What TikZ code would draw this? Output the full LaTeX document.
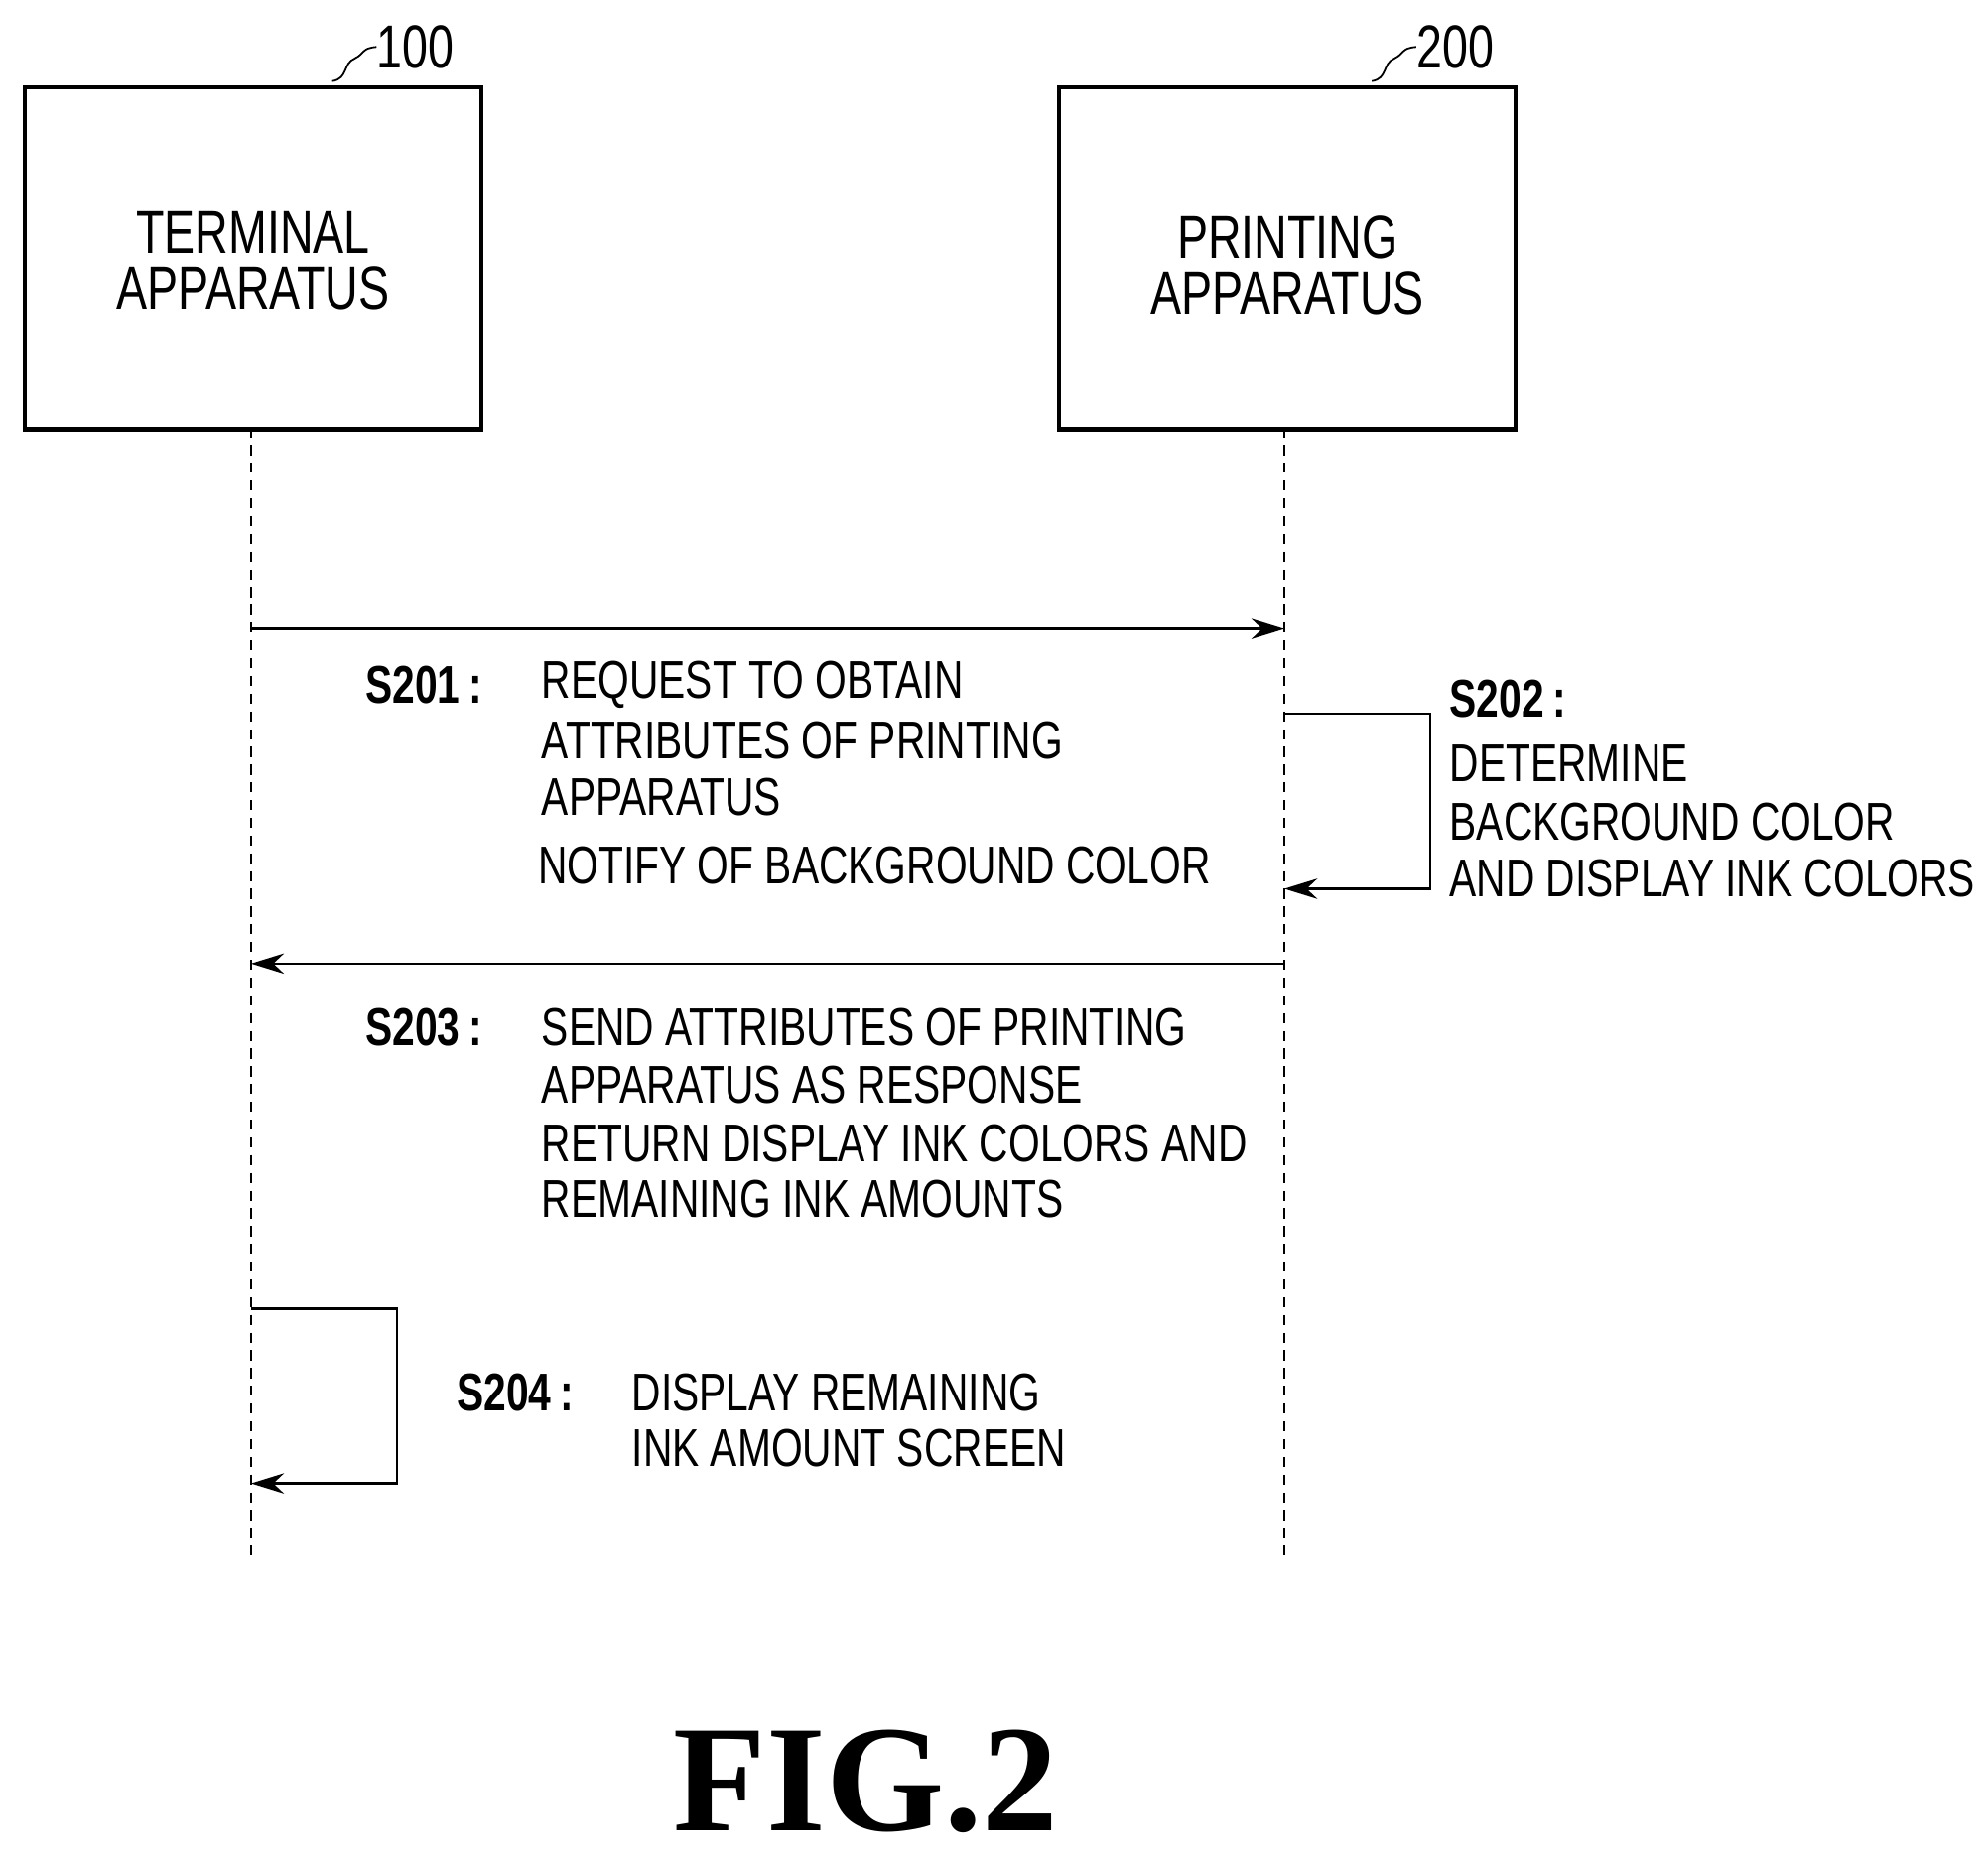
\documentclass[tikz,border=0pt]{standalone}
\usepackage{fontspec}
\setmainfont{Liberation Sans}[FakeStretch=0.76]
\newfontfamily\figfont{Liberation Serif}
\usetikzlibrary{arrows.meta}
\begin{document}
\begin{tikzpicture}[x=0.5pt,y=-0.5pt,
  box/.style={draw,line width=1.6pt},
  life/.style={dashed,line width=0.6pt,dash pattern=on 4pt off 3pt},
  msg/.style={line width=1pt,-{Stealth[length=13pt,width=8pt]}},
  txt/.style={anchor=west,inner sep=0,font=\fontsize{21}{22}\selectfont},
  lab/.style={anchor=west,inner sep=0,font=\fontsize{21}{22}\selectfont\bfseries}]
\useasboundingbox (0,0) rectangle (1568,1467);
\node[box,minimum width=180pt,minimum height=135pt,anchor=north west] (t) at (18,67) {};
\node[box,minimum width=180pt,minimum height=135pt,anchor=north west] (p) at (834,67) {};
\node[align=center,font=\fontsize{24}{22}\selectfont] (tl) at (t.center) [yshift=-1pt] {TERMINAL\\APPARATUS};
\node[align=center,font=\fontsize{24}{22}\selectfont] (pl) at (p.center) [yshift=-3pt] {PRINTING\\APPARATUS};
\node[font=\fontsize{24}{24}\selectfont,anchor=west,inner sep=0] (n1) at (297,37) {100};
\node[font=\fontsize{24}{24}\selectfont,anchor=west,inner sep=0] (n2) at (1117,37) {200};
\draw[line width=0.7pt] (262,64) .. controls (275,62) and (270,50) .. (280,46) .. controls (288,42) and (285,38) .. (n1.west);
\draw[line width=0.7pt] (1082,64) .. controls (1095,62) and (1090,50) .. (1100,46) .. controls (1108,42) and (1105,38) .. (n2.west);
\coordinate (a0) at (198,337); \coordinate (a1) at (198,1230);
\coordinate (b0) at (1013,337); \coordinate (b1) at (1013,1230);
\draw[life] (a0) -- (a1);
\draw[life] (b0) -- (b1);
\coordinate (s1a) at (198,496); \coordinate (s1b) at (1013,496);
\draw[msg] (s1a) -- (s1b);
\coordinate (s2a) at (1013,563); \coordinate (s2b) at (1013,701);
\draw[msg] (s2a) -| (1128,701) -- (s2b);
\coordinate (s3a) at (1013,760); \coordinate (s3b) at (198,760);
\draw[msg] (s3a) -- (s3b);
\coordinate (s4a) at (198,1032); \coordinate (s4b) at (198,1170);
\draw[msg] (s4a) -| (313,1170) -- (s4b);
\node[lab] (l1) at (288,540) {S201\,:};
\node[txt] at (427,540) {REQUEST TO OBTAIN};
\node[txt] at (427,584) {ATTRIBUTES OF PRINTING};
\node[txt] at (427,629) {APPARATUS};
\node[txt] at (424,683) {NOTIFY OF BACKGROUND COLOR};
\node[lab] (l2) at (1143,551) {S202\,:};
\node[txt] at (1143,602) {DETERMINE};
\node[txt] at (1143,648) {BACKGROUND COLOR};
\node[txt] at (1143,693) {AND DISPLAY INK COLORS};
\node[lab] (l3) at (288,810) {S203\,:};
\node[txt] at (427,810) {SEND ATTRIBUTES OF PRINTING};
\node[txt] at (427,856) {APPARATUS AS RESPONSE};
\node[txt] at (427,902) {RETURN DISPLAY INK COLORS AND};
\node[txt] at (427,946) {REMAINING INK AMOUNTS};
\node[lab] (l4) at (360,1098) {S204\,:};
\node[txt] at (498,1098) {DISPLAY REMAINING};
\node[txt] at (498,1142) {INK AMOUNT SCREEN};
\node[font=\figfont\fontsize{60}{60}\selectfont\bfseries,inner sep=0] (fig) at (683,1405) {FIG.2};
\end{tikzpicture}
\end{document}
